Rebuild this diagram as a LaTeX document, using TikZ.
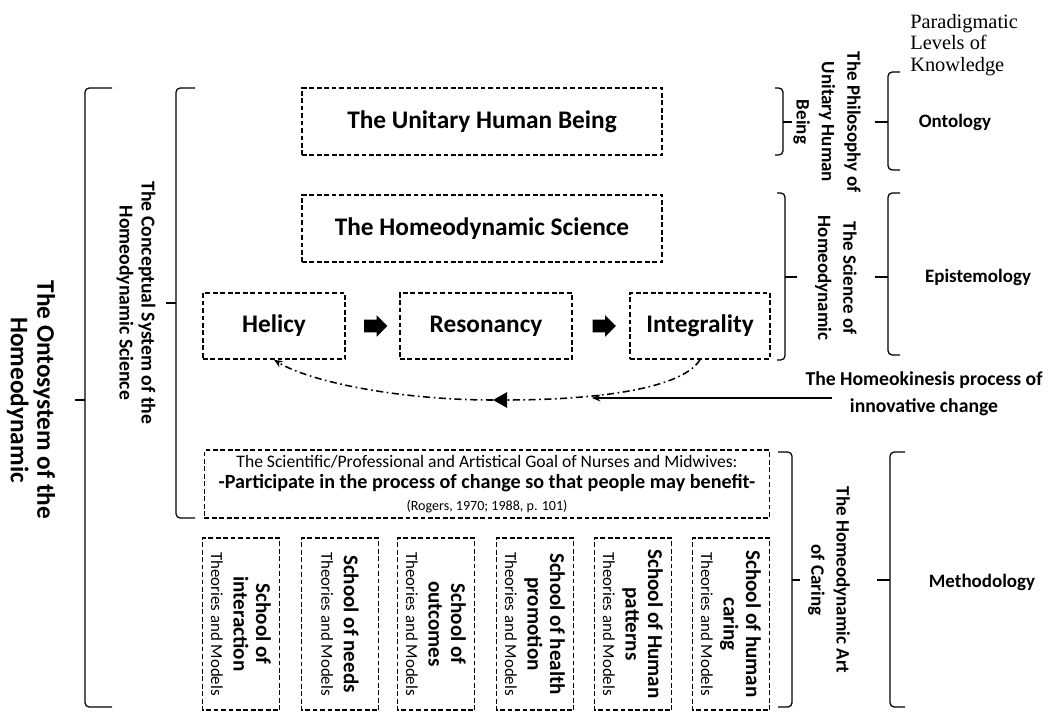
\documentclass[tikz,border=0pt]{standalone}
\usepackage{fontspec}
\setmainfont{Carlito}
\newfontfamily\paraserif{Liberation Serif}
\usetikzlibrary{arrows.meta,shapes.arrows,calc}

\tikzset{
  dbox/.style={draw, line width=1.1pt, dash pattern=on 3.4pt off 1.9pt, inner sep=1pt, align=center},
  bigtxt/.style={font=\bfseries\fontsize{18}{21}\selectfont},
  lbl/.style={font=\bfseries\fontsize{13.5}{18}\selectfont, align=center},
  brc/.style={line width=0.9pt, rounded corners=3pt},
  blockarr/.style={single arrow, fill=black, minimum height=0.58cm, inner xsep=0pt, inner ysep=4.4pt,
    single arrow head extend=3pt},
  ddot/.style={line width=1.1pt, dash pattern=on 5pt off 2.5pt on 1.2pt off 2.5pt},
}

\begin{document}
\begin{tikzpicture}[x=0.025cm,y=-0.025cm]
\useasboundingbox (0,0) rectangle (1058,715);

% left braces and their labels
\node[align=center, rotate=-90, font=\bfseries\fontsize{18}{19}\selectfont] (onsys) at (31,400) {The Ontosystem of the\\Homeodynamic};
\node[lbl, rotate=-90, font=\bfseries\fontsize{14}{15.6}\selectfont] (concsys) at (136,303) {The Conceptual System of the\\Homeodynamic Science};
\draw[brc] (112,88) -- (85,88) -- (85,707) -- (112,707);
\draw[brc] (85,400) -- (75,400);
\draw[brc] (195,88) -- (176,88) -- (176,518) -- (195,518);
\draw[brc] (176,303) -- (166,303);

% main boxes
\node[dbox, bigtxt, minimum width=9cm, minimum height=1.675cm] (uhb) at (482,121.5) {The Unitary Human Being};
\node[dbox, bigtxt, minimum width=9cm, minimum height=1.675cm] (hsci) at (482,228.5) {The Homeodynamic Science};

\node[dbox, bigtxt, minimum width=3.55cm, minimum height=1.65cm] (helicy) at (274,326) {Helicy};
\node[dbox, bigtxt, minimum width=4.3cm, minimum height=1.65cm] (reson) at (486,326) {Resonancy};
\node[dbox, bigtxt, minimum width=3.5cm, minimum height=1.65cm] (integ) at (700,326) {Integrality};
\node[blockarr] (ar1) at ($(helicy.east)!0.5!(reson.west)$) {};
\node[blockarr] (ar2) at ($(reson.east)!0.5!(integ.west)$) {};

% homeokinesis
\coordinate (mid) at (493,400);
\coordinate (hkstart) at (832,398);
\coordinate (hktip) at (592,398);
\draw[ddot, -{Triangle[length=10pt,width=11pt]}] (integ.south) .. controls (680,392) and (580,400) .. (mid);
\draw[ddot, -{Stealth[length=6pt,width=5pt]}] (mid) .. controls (400,400) and (310,382) .. (helicy.south);
\draw[line width=0.8pt, -{Stealth[length=6pt,width=5pt]}] (hkstart) -- (hktip);
\node[lbl, font=\bfseries\fontsize{14}{19}\selectfont] (hk) at (924,394) {The Homeokinesis process of\\innovative change};

% goal
\node[dbox, minimum width=14.125cm, minimum height=1.7cm, font=\fontsize{12.5}{15.5}\selectfont] (goal) at (487,484)
  {The Scientific/Professional and Artistical Goal of Nurses and Midwives:\\
   {\bfseries\fontsize{14.3}{15.5}\selectfont -Participate in the process of change so that people may benefit-}\\
   {\fontsize{10}{15.5}\selectfont (Rogers, 1970; 1988, p. 101)}};

% schools
\foreach \x/\nm/\txt in {241/sc1/{School of\\interaction}, 340/sc2/{School of needs},
  436/sc3/{School of\\outcomes}, 535/sc4/{School of health\\promotion},
  633/sc5/{School of Human\\patterns}, 731/sc6/{School of human\\caring}}
  \node[dbox, rotate=-90, minimum width=4.3cm, minimum height=1.925cm,
    font=\bfseries\fontsize{15}{16}\selectfont] (\nm) at (\x,624)
    {\txt\\{\mdseries\fontsize{12}{14}\selectfont Theories and Models}};

% right side
\draw[brc] (775,88) -- (783,88) -- (783,155) -- (775,155);
\draw[brc] (783,122) -- (792,122);
\draw[brc] (777,193) -- (785,193) -- (785,360) -- (777,360);
\draw[brc] (785,277) -- (797,277);
\draw[brc] (778,452) -- (792,452) -- (792,707) -- (778,707);
\draw[brc] (792,580) -- (800,580);

\node[lbl, rotate=-90] (phil) at (827,122) {The Philosophy of\\Unitary Human\\Being};
\node[lbl, rotate=-90] (sci) at (836,278) {The Science of\\Homeodynamic};
\node[lbl, rotate=-90] (art) at (829,580) {The Homeodynamic Art\\of Caring};

\draw[brc] (900,72) -- (888,72) -- (888,170) -- (900,170);
\draw[brc] (888,122) -- (875,122);
\draw[brc] (900,193) -- (888,193) -- (888,355) -- (900,355);
\draw[brc] (888,277) -- (875,277);
\draw[brc] (905,452) -- (890,452) -- (890,707) -- (905,707);
\draw[brc] (890,580) -- (877,580);

\node[lbl] (onto) at (955,122) {Ontology};
\node[lbl] (epis) at (978,277) {Epistemology};
\node[lbl] (meth) at (982,582) {Methodology};
\node[font=\paraserif\fontsize{14.5}{15.3}\selectfont, align=left, anchor=north west, inner sep=0pt] (para) at (910,14) {Paradigmatic\\Levels of\\Knowledge};
\end{tikzpicture}
\end{document}
